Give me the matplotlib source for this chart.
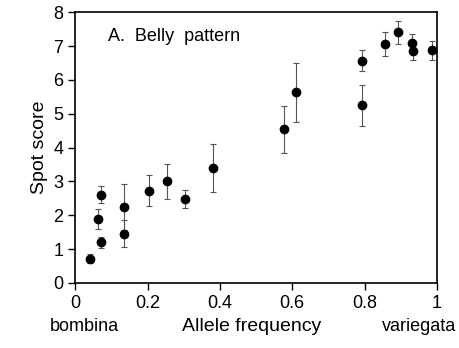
import matplotlib
matplotlib.use('Agg')
import matplotlib.pyplot as plt
import numpy as np

plt.rcParams['font.family'] = ['Liberation Sans', 'DejaVu Sans']

# allele frequency, mean spot score, error (half-width)
freq = [0.04, 0.064, 0.071, 0.071, 0.136, 0.136, 0.203, 0.253, 0.303, 0.382,
        0.577, 0.61, 0.794, 0.794, 0.855, 0.893, 0.931, 0.935, 0.985]
score = [0.72, 1.88, 2.61, 1.20, 2.25, 1.45, 2.72, 3.00, 2.49, 3.40,
         4.54, 5.63, 6.57, 5.25, 7.06, 7.40, 7.10, 6.85, 6.87]
err = [0.12, 0.30, 0.25, 0.17, 0.68, 0.40, 0.46, 0.52, 0.27, 0.71,
       0.70, 0.87, 0.31, 0.60, 0.36, 0.33, 0.27, 0.25, 0.28]

xticks = [0, 0.2, 0.4, 0.6, 0.8, 1]
xticklabels = ['0', '0.2', '0.4', '0.6', '0.8', '1']

fig = plt.figure(figsize=(4.59, 3.48), dpi=100)
ax = fig.add_axes([0.164, 0.187, 0.788, 0.778])

ax.errorbar(freq, score, yerr=err, fmt='none', ecolor='#555555',
            elinewidth=0.8, capsize=2.5, capthick=0.8)
ax.plot(freq, score, 'o', color='black', markersize=6)

ax.set_xlim(0, 1)
ax.set_ylim(0, 8)
ax.set_xticks(xticks)
ax.set_xticklabels(xticklabels)
ax.set_yticks(range(0, 9))
ax.tick_params(direction='out', length=5, width=1, labelsize=13, color='black')
for s in ax.spines.values():
    s.set_linewidth(1.2)

ax.set_ylabel('Spot score', fontsize=14, labelpad=4)
ax.text(0.09, 7.27, 'A.  Belly  pattern', fontsize=13, va='center')

fig.text(0.548, 0.062, 'Allele frequency', fontsize=14, ha='center', va='center')
fig.text(0.108, 0.062, 'bombina', fontsize=13, ha='left', va='center')
fig.text(0.993, 0.062, 'variegata', fontsize=13, ha='right', va='center')

fig.savefig('out.png', dpi=100)
